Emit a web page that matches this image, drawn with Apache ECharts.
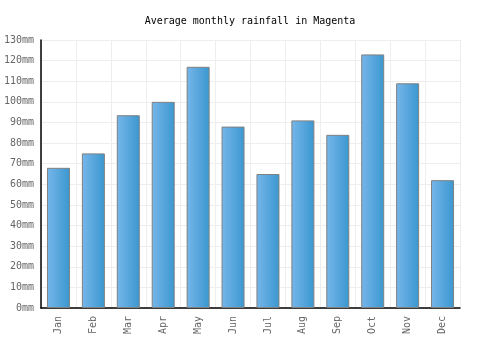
<!DOCTYPE html>
<html><head><meta charset="utf-8">
<script src="https://cdn.jsdelivr.net/npm/echarts@6/dist/echarts.min.js"></script>
<style>html,body{margin:0;padding:0;background:#fff}#c{width:500px;height:350px}</style>
</head><body><div id="c"></div>
<script>
var months = ['Jan','Feb','Mar','Apr','May','Jun','Jul','Aug','Sep','Oct','Nov','Dec'];
var rainfall = [68, 75, 93.5, 100, 117, 88, 65, 91, 84, 123, 109, 62];
var titleText = 'Average monthly rainfall in Magenta';
var unit = 'mm';
var font = 'DejaVu Sans Mono';
var chart = echarts.init(document.getElementById('c'), null, {renderer:'canvas'});
chart.setOption({
  animation: false,
  title: {text: titleText, left: 'center', top: 11,
    textStyle: {fontFamily: font, fontSize: 10, fontWeight: 'normal', color: '#000'}},
  grid: {left: 41, right: 40, top: 40, bottom: 42},
  xAxis: {type: 'category', data: months, boundaryGap: true,
    axisLine: {lineStyle: {color: '#000', width: 1.5}},
    axisTick: {show: false},
    splitLine: {show: true, lineStyle: {color: '#eeeeee'}},
    axisLabel: {rotate: 90, fontFamily: font, fontSize: 10, color: '#666', margin: 8, interval: 0}},
  yAxis: {type: 'value', min: 0, max: 130, interval: 10,
    axisLine: {show: true, lineStyle: {color: '#000', width: 1.5}},
    axisTick: {show: false},
    splitLine: {lineStyle: {color: '#eeeeee'}},
    axisLabel: {formatter: function(v){return v + unit;}, fontFamily: font, fontSize: 10, color: '#666', margin: 7}},
  series: [{type: 'bar', data: rainfall, barWidth: 23,
    itemStyle: {borderColor: '#808080', borderWidth: 1,
      color: new echarts.graphic.LinearGradient(0,0,1,0,[{offset:0,color:'#76b6ea'},{offset:1,color:'#3a97cf'}])}}]
});
</script></body></html>
